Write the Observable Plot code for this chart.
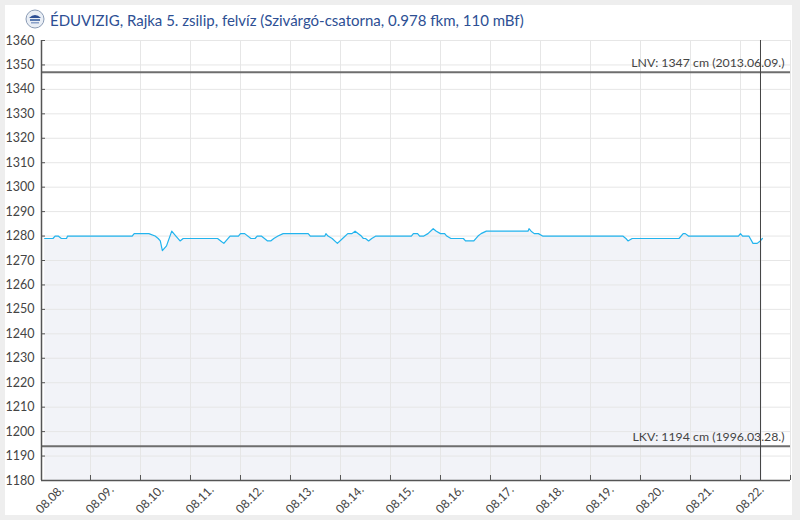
<!DOCTYPE html>
<html><head><meta charset="utf-8">
<script src="https://cdn.jsdelivr.net/npm/d3@7"></script>
<script src="https://cdn.jsdelivr.net/npm/@observablehq/plot@0.6"></script>
<style>
html,body{margin:0;padding:0;background:#eeeeee;width:800px;height:520px;overflow:hidden;}
#panel{position:absolute;left:5px;top:5px;width:787px;height:510px;background:#fff;}
#title{position:absolute;left:45px;top:5px;font-family:Lato;font-size:15px;color:#2d4f94;white-space:nowrap;line-height:20px}
#icon{position:absolute;left:20px;top:4px}
#chart{position:absolute;left:0;top:30px}
#chart svg{overflow:visible}
</style></head>
<body>
<div id="panel">
  <svg id="icon" width="20" height="20" viewBox="0 0 20 20">
    <circle cx="10" cy="10" r="9" fill="#e9eef5" stroke="#8a9bb5" stroke-width="1"/>
    <path d="M4 9 Q10 3 16 9 Z" fill="#2d4f94"/>
    <rect x="5" y="10" width="10" height="2" fill="#5a7ab0"/>
    <rect x="6" y="13" width="8" height="1.5" fill="#8aa0c8"/>
  </svg>
  <div id="title">ÉDUVIZIG, Rajka 5. zsilip, felvíz (Szivárgó-csatorna, 0.978 fkm, 110 mBf)</div>
  <div id="chart"></div>
</div>
<script>
// ---- data ----
const times = [
  "2024-08-07T02:00","2024-08-07T06:00","2024-08-07T07:00","2024-08-07T08:30","2024-08-07T10:00",
  "2024-08-07T12:30","2024-08-07T13:00","2024-08-08T20:00","2024-08-08T21:00","2024-08-09T04:00",
  "2024-08-09T07:00","2024-08-09T08:30","2024-08-09T09:30","2024-08-09T10:30","2024-08-09T12:30",
  "2024-08-09T15:00","2024-08-09T17:00","2024-08-09T19:00","2024-08-09T20:30","2024-08-10T13:00",
  "2024-08-10T14:30","2024-08-10T16:00","2024-08-10T19:00","2024-08-10T23:00","2024-08-11T00:00",
  "2024-08-11T02:00","2024-08-11T05:00","2024-08-11T07:00","2024-08-11T08:00","2024-08-11T10:00",
  "2024-08-11T13:00","2024-08-11T14:30","2024-08-11T16:00","2024-08-11T18:00","2024-08-11T20:30",
  "2024-08-12T08:30","2024-08-12T09:30","2024-08-12T16:30","2024-08-12T17:00","2024-08-12T18:00",
  "2024-08-12T20:00","2024-08-12T22:30","2024-08-13T01:00","2024-08-13T03:30","2024-08-13T05:30",
  "2024-08-13T07:00","2024-08-13T10:00","2024-08-13T11:00","2024-08-13T12:00","2024-08-13T13:30",
  "2024-08-13T15:00","2024-08-13T17:00","2024-08-14T10:00","2024-08-14T11:00","2024-08-14T13:00",
  "2024-08-14T14:00","2024-08-14T16:00","2024-08-14T18:00","2024-08-14T20:30","2024-08-14T22:00",
  "2024-08-15T00:00","2024-08-15T02:00","2024-08-15T03:00","2024-08-15T05:00","2024-08-15T11:00",
  "2024-08-15T12:00","2024-08-15T16:00","2024-08-15T18:00","2024-08-15T19:30","2024-08-15T22:00",
  "2024-08-16T18:00","2024-08-16T18:30","2024-08-16T19:30","2024-08-16T21:00","2024-08-16T23:00",
  "2024-08-17T01:00","2024-08-18T15:30","2024-08-18T17:00","2024-08-18T18:00","2024-08-18T20:00",
  "2024-08-19T18:30","2024-08-19T20:30","2024-08-19T21:30","2024-08-19T23:00","2024-08-20T23:00",
  "2024-08-21T00:00","2024-08-21T01:00","2024-08-21T04:00","2024-08-21T06:00","2024-08-21T08:00",
  "2024-08-21T09:30","2024-08-21T10:30"
];
const levels = [
  1279,1279,1280,1280,1279,
  1279,1280,1280,1281,1281,
  1280,1279,1278,1274,1276,
  1282,1280,1278,1279,1279,
  1278,1277,1280,1280,1281,
  1281,1279,1279,1280,1280,
  1278,1278,1279,1280,1281,
  1281,1280,1280,1281,1280,
  1279,1277,1279,1281,1281,
  1282,1280,1279,1279,1278,
  1279,1280,1280,1281,1281,
  1280,1280,1281,1283,1282,
  1281,1281,1280,1279,1279,
  1278,1278,1280,1281,1282,
  1282,1283,1282,1281,1281,
  1280,1280,1279,1278,1279,
  1279,1281,1281,1280,1280,
  1281,1280,1280,1277,1277,
  1278,1279
];
const dayLabels = ["08.08.","08.09.","08.10.","08.11.","08.12.","08.13.","08.14.","08.15.",
                   "08.16.","08.17.","08.18.","08.19.","08.20.","08.21.","08.22."];
const dayTicks = ["2024-08-08","2024-08-09","2024-08-10","2024-08-11","2024-08-12","2024-08-13",
                  "2024-08-14","2024-08-15","2024-08-16","2024-08-17","2024-08-18","2024-08-19",
                  "2024-08-20","2024-08-21","2024-08-22"];
const yTicks = [1180,1190,1200,1210,1220,1230,1240,1250,1260,1270,1280,1290,1300,1310,1320,1330,1340,1350,1360];
const refValues = [1347, 1194];
const refLabels = ["LNV: 1347 cm (2013.06.09.)", "LKV: 1194 cm (1996.03.28.)"];
const nowTime = "2024-08-21T09:36";
const xDomain = ["2024-08-07T00:29", "2024-08-22T00:00"];
const yDomain = [1180, 1360];

// ---- build ----
const toDate = s => new Date(s.length === 10 ? s + "T00:00Z" : s + "Z");
const data = times.map((t, i) => ({t: toDate(t), v: levels[i]}));
const ticks = dayTicks.map((d, i) => ({t: toDate(d), label: dayLabels[i]}));
const refs = refValues.map((v, i) => ({v, label: refLabels[i]}));
const x0 = toDate(xDomain[0]), x1 = toDate(xDomain[1]);

const W = 787, H = 480, mL = 36, mR = 2, mT = 5, mB = 35;
const innerW = W - mL - mR, innerH = H - mT - mB;

const chart = Plot.plot({
  width: W, height: H,
  marginLeft: mL, marginRight: mR, marginTop: mT, marginBottom: mB,
  style: {fontFamily: "Lato", fontSize: "12px", color: "#444", background: "transparent"},
  x: {type: "utc", domain: [x0, x1], axis: null},
  y: {domain: yDomain, axis: null},
  marks: [
    Plot.areaY(data, {x: "t", y: "v", fill: "#f2f3f8", clip: true}),
    Plot.ruleY(yTicks, {stroke: "#e6e6e6", strokeWidth: 1}),
    Plot.ruleX(ticks, {x: "t", stroke: "#e6e6e6", strokeWidth: 1}),
    Plot.lineY(data, {x: "t", y: "v", stroke: "#22b4ee", strokeWidth: 1.2}),
    Plot.ruleY(refs, {y: "v", stroke: "#6e6e6e", strokeWidth: 2}),
    Plot.text(refs, {y: "v", text: "label", frameAnchor: "right", textAnchor: "end", lineAnchor: "bottom",
                     dx: -6, dy: -5, fontSize: 12.3, fill: "#444"}),
    Plot.ruleX([toDate(nowTime)], {stroke: "#444", strokeWidth: 1}),
    Plot.ruleX([x0], {stroke: "#555", strokeWidth: 1.5}),
    Plot.ruleY([yDomain[0]], {stroke: "#555", strokeWidth: 1.5}),
    Plot.ruleY(yTicks, {stroke: "#555", strokeWidth: 1, insetRight: innerW - 4}),
    Plot.ruleX(ticks, {x: "t", stroke: "#555", strokeWidth: 1, insetTop: innerH - 5}),
    Plot.axisY({ticks: yTicks, tickSize: 0, tickPadding: 7, tickFormat: d => String(d), label: null,
                fontSize: 12.5, fill: "#444"}),
    Plot.text(ticks, {x: "t", text: "label", frameAnchor: "bottom", rotate: -45, textAnchor: "end",
                      lineAnchor: "bottom", dx: -26, dy: 10, fontSize: 12, fill: "#444"})
  ]
});
document.getElementById("chart").appendChild(chart);
</script>
</body></html>
